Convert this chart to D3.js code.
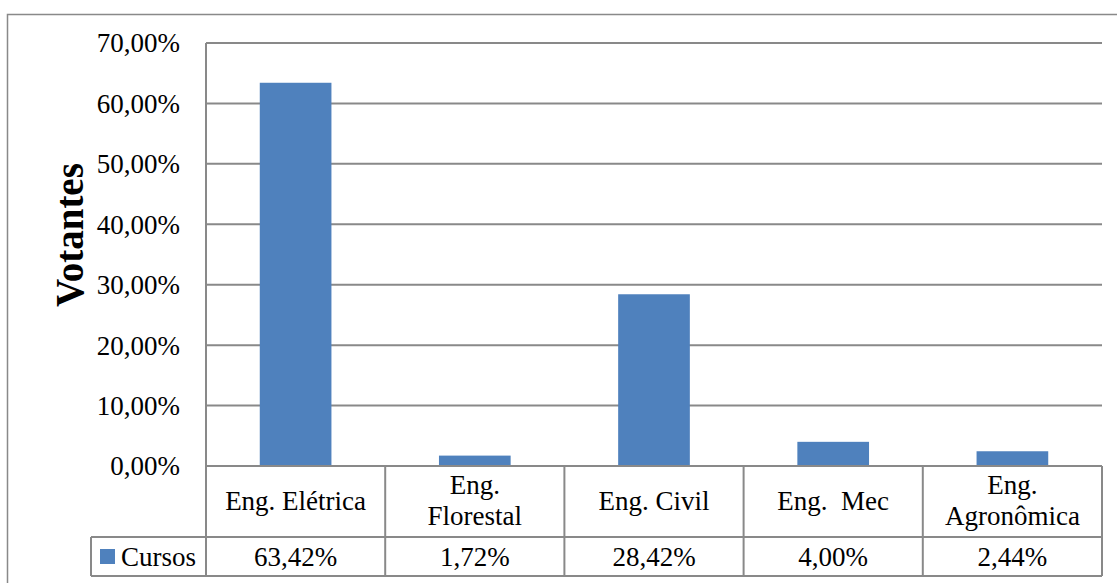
<!DOCTYPE html>
<html>
<head>
<meta charset="utf-8">
<script src="https://cdn.jsdelivr.net/npm/d3@7"></script>
<style>
  body { margin: 0; background: #fff; }
  svg text { font-family: "Liberation Serif", "DejaVu Serif", serif; fill: #000; }
</style>
</head>
<body>
<div id="plot"></div>
<script>
// chart data
const categories = ["Eng. Elétrica", "Eng.\nFlorestal", "Eng. Civil", "Eng.  Mec", "Eng.\nAgronômica"];
const values = [63.42, 1.72, 28.42, 4.00, 2.44];
const valueLabels = ["63,42%", "1,72%", "28,42%", "4,00%", "2,44%"];
const yTicks = [0, 10, 20, 30, 40, 50, 60, 70];
const seriesName = "Cursos";

const FRAME_WIDTH = 1117;
const FRAME_HEIGHT = 583;
const BAR_COLOR = "#4F81BD";
const LINE_COLOR = "#898989";

const PLOT = { left: 206, right: 1102, top: 43, bottom: 466 };
const ROW1_BOTTOM = 537;
const ROW2_BOTTOM = 576;
const LEGEND_LEFT = 91;

const svg = d3.select("#plot")
  .append("svg")
    .attr("width", FRAME_WIDTH)
    .attr("height", FRAME_HEIGHT);

// outer chart border (left and top visible)
svg.append("path")
  .attr("d", `M7.5,${FRAME_HEIGHT} L7.5,14.5 L${FRAME_WIDTH},14.5`)
  .attr("fill", "none")
  .attr("stroke", LINE_COLOR)
  .attr("stroke-width", 1.5);

const x = d3.scaleBand()
  .domain(categories)
  .range([PLOT.left, PLOT.right])
  .paddingInner(0.6)
  .paddingOuter(0.3);

const y = d3.scaleLinear()
  .domain([0, 70])
  .range([PLOT.bottom, PLOT.top]);

// gridlines
svg.append("g")
  .selectAll("line")
  .data(yTicks)
  .join("line")
    .attr("x1", PLOT.left)
    .attr("x2", PLOT.right)
    .attr("y1", d => y(d))
    .attr("y2", d => y(d))
    .attr("stroke", LINE_COLOR)
    .attr("stroke-width", 2);

// y axis line
svg.append("line")
  .attr("x1", PLOT.left).attr("x2", PLOT.left)
  .attr("y1", PLOT.top).attr("y2", ROW1_BOTTOM)
  .attr("stroke", LINE_COLOR)
  .attr("stroke-width", 2);

// y tick labels
svg.append("g")
  .selectAll("text")
  .data(yTicks)
  .join("text")
    .attr("x", 180)
    .attr("y", d => y(d))
    .attr("dy", "0.35em")
    .attr("text-anchor", "end")
    .attr("font-size", 27)
    .text(d => d.toFixed(2).replace(".", ",") + "%");

// y axis title
svg.append("text")
  .attr("transform", "translate(83,235) rotate(-90)")
  .attr("text-anchor", "middle")
  .attr("font-size", 39)
  .attr("font-weight", "bold")
  .text("Votantes");

// bars
svg.append("g")
  .selectAll("rect")
  .data(values)
  .join("rect")
    .attr("x", (d, i) => x(categories[i]))
    .attr("width", x.bandwidth())
    .attr("y", d => y(d))
    .attr("height", d => y(0) - y(d))
    .attr("fill", BAR_COLOR);

// data table
const step = (PLOT.right - PLOT.left) / categories.length;
const table = svg.append("g");

// horizontal lines
table.append("line")
  .attr("x1", PLOT.left).attr("x2", PLOT.right)
  .attr("y1", PLOT.bottom).attr("y2", PLOT.bottom)
  .attr("stroke", LINE_COLOR).attr("stroke-width", 2);
table.append("line")
  .attr("x1", LEGEND_LEFT).attr("x2", PLOT.right)
  .attr("y1", ROW1_BOTTOM).attr("y2", ROW1_BOTTOM)
  .attr("stroke", LINE_COLOR).attr("stroke-width", 2);
table.append("line")
  .attr("x1", LEGEND_LEFT).attr("x2", PLOT.right)
  .attr("y1", ROW2_BOTTOM).attr("y2", ROW2_BOTTOM)
  .attr("stroke", LINE_COLOR).attr("stroke-width", 2);

// vertical lines
table.selectAll("line.col")
  .data(d3.range(1, categories.length + 1))
  .join("line")
    .attr("class", "col")
    .attr("x1", i => PLOT.left + i * step)
    .attr("x2", i => PLOT.left + i * step)
    .attr("y1", PLOT.bottom).attr("y2", ROW2_BOTTOM)
    .attr("stroke", LINE_COLOR).attr("stroke-width", 2);
table.append("line")
  .attr("x1", PLOT.left).attr("x2", PLOT.left)
  .attr("y1", ROW1_BOTTOM).attr("y2", ROW2_BOTTOM)
  .attr("stroke", LINE_COLOR).attr("stroke-width", 2);
table.append("line")
  .attr("x1", LEGEND_LEFT).attr("x2", LEGEND_LEFT)
  .attr("y1", ROW1_BOTTOM).attr("y2", ROW2_BOTTOM)
  .attr("stroke", LINE_COLOR).attr("stroke-width", 2);

// category labels
const catText = table.selectAll("text.cat")
  .data(categories)
  .join("text")
    .attr("class", "cat")
    .attr("text-anchor", "middle")
    .attr("font-size", 27)
    .attr("x", (d, i) => PLOT.left + (i + 0.5) * step);

catText.each(function(d) {
  const lines = d.split("\n");
  const cx = d3.select(this).attr("x");
  const startY = lines.length === 1 ? 510 : 494;
  d3.select(this).selectAll("tspan")
    .data(lines)
    .join("tspan")
      .attr("x", cx)
      .attr("y", (l, j) => startY + j * 31)
      .style("white-space", "pre")
      .text(l => l);
});

// value labels
table.selectAll("text.val")
  .data(valueLabels)
  .join("text")
    .attr("class", "val")
    .attr("text-anchor", "middle")
    .attr("font-size", 27)
    .attr("x", (d, i) => PLOT.left + (i + 0.5) * step)
    .attr("y", 566)
    .text(d => d);

// legend key
table.append("rect")
  .attr("x", 100).attr("y", 549)
  .attr("width", 15).attr("height", 15)
  .attr("fill", BAR_COLOR);
table.append("text")
  .attr("x", 121).attr("y", 566)
  .attr("font-size", 27)
  .text(seriesName);
</script>
</body>
</html>
